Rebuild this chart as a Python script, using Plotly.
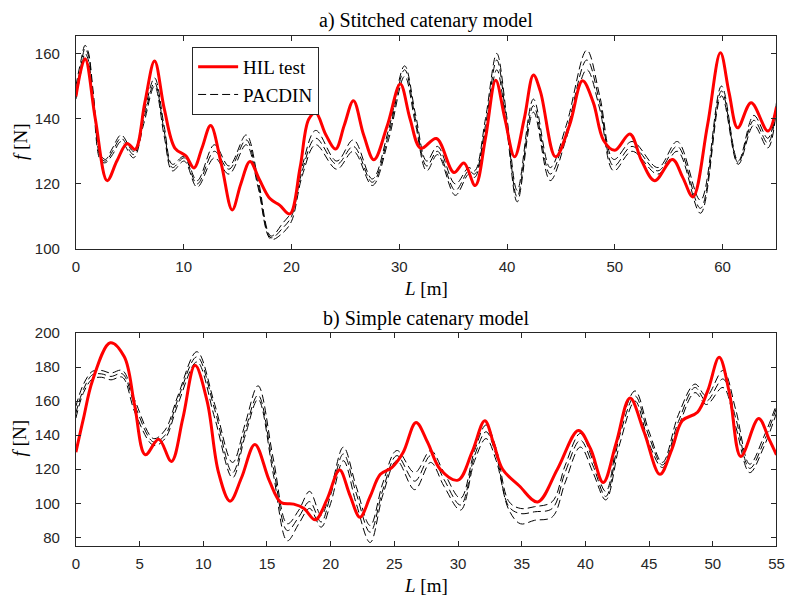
import plotly.graph_objects as go

# ---------------- a) Stitched catenary model ----------------
L_hil_a = [0, 0.85, 1.8, 2.9, 3.8, 4.75, 5.5, 6.4, 7.3, 8.2, 9.2, 10.2, 10.95, 11.7, 12.5,
           13.5, 14.5, 15.3, 16.15, 17.0, 18.0, 18.9, 19.85, 20.8, 21.6, 22.25, 23.2, 24.1,
           24.9, 25.75, 26.7, 27.65, 28.9, 30.1, 31.0, 32.0, 33.45, 35.07, 36.0, 37.05, 38.0,
           38.95, 39.8, 40.7, 41.6, 42.45, 43.1, 44.5, 45.8, 47.0, 48.0, 48.95, 50.0, 51.4,
           52.5, 53.7, 55.35, 56.3, 57.25, 58.6, 59.8, 60.6, 61.4, 62.65, 64.2, 65]
f_hil_a = [146.8, 158.4, 140, 121, 127, 132.4, 130.6, 145, 157.7, 143, 130.9, 128.6, 124.9,
           131, 137.9, 126, 112, 120, 126.9, 121.5, 115.5, 113.5, 110.8, 125, 139.8, 141.8,
           135, 130.7, 138, 145.5, 135, 127.4, 138, 150.6, 140, 130.9, 133.9, 123.5, 126.4,
           119.5, 134, 151.8, 140, 128.3, 140, 153.4, 148.3, 128.3, 138, 151.6, 145, 133.4,
           130.3, 135.3, 127, 121, 127.5, 122, 116, 138, 160.2, 148, 137.2, 144.9, 136.2, 143.6]

L_pac_a = [0, 0.45, 0.85, 1.15, 1.6, 2.3, 2.75, 3.4, 4.2, 5.35, 6.3, 7.3, 8.2, 8.95, 10.05,
           11.25, 12.85, 14.2, 15.8, 16.9, 18.1, 19.2, 20.0, 21.0, 22.25, 24.2, 25.75, 27.5,
           29.0, 30.5, 31.5, 32.55, 33.55, 35.2, 36.45, 37.0, 38.0, 39.05, 40.0, 40.95, 42.45,
           44.0, 45.5, 47.4, 48.6, 49.9, 51.6, 54.0, 55.8, 57.95, 59.9, 61.45, 62.9, 64.2, 65]
f_pac_a_run1 = [146, 154, 160, 158, 145.5, 127, 126.5, 129, 133, 128, 138.5, 150, 134.5, 124,
                127, 119, 128, 123, 132, 119, 103, 105, 108.5, 122.5, 132, 124.5, 130, 119.5,
                133.5, 153, 138.5, 124, 129, 116.5, 123, 122, 136, 155, 136, 114.5, 142, 121,
                134, 155, 143, 124, 130, 123, 130, 111, 147, 126, 138, 131, 143]
f_pac_a_run2 = [148, 156, 161.5, 159.5, 147, 128, 127, 130, 134, 129, 140, 151, 136, 125, 128,
                120, 130, 124.5, 133.5, 120, 103.5, 106.5, 110, 124, 134, 126, 131.5, 120.5,
                135, 155, 140, 125.5, 130, 118, 124, 123, 138, 158, 138, 116, 144, 123, 136,
                158, 145, 125.5, 131.5, 124, 131.5, 112.5, 148.5, 126.5, 139.5, 132.5, 144]
f_pac_a_run3 = [150, 157.5, 162.5, 160.5, 148.5, 129, 127.5, 131, 135, 130, 141.5, 152.5, 137.5,
                126, 128.5, 121, 132, 125.5, 135, 121.5, 104, 108, 111.5, 125.5, 136.4, 127,
                133.5, 121.5, 136.5, 156.2, 141.5, 127, 131.5, 120, 125, 124, 140, 160, 140,
                118, 146, 125, 138, 161, 147, 127.5, 133, 125, 133, 115, 150, 127, 141, 134, 145]

# ---------------- b) Simple catenary model ----------------
L_hil_b = [0, 0.6, 1.3, 2.7, 3.8, 4.6, 5.45, 6.5, 7.5, 8.4, 9.35, 10.3, 11.2, 12.1, 13.0, 14.05,
           15.2, 16.1, 17.1, 17.9, 18.8, 19.7, 20.7, 21.5, 22.3, 23.1, 23.9, 24.8, 25.7, 26.7,
           27.6, 28.6, 30.0, 31.1, 32.1, 32.8, 33.5, 34.8, 36.25, 37.8, 39.45, 40.4, 41.4,
           42.4, 43.5, 44.6, 45.85, 46.8, 47.6, 48.8, 49.6, 50.5, 51.3, 52.2, 53.6, 54.4, 55]
f_hil_b = [130, 150, 172, 194.3, 186, 158, 128.5, 137.6, 124.6, 150, 181, 160, 118, 101.2, 115,
           134.6, 113, 100.5, 99.5, 97, 90.3, 102, 119.5, 105, 91.8, 104, 117, 121, 130, 147.5,
           136, 120, 113.6, 130, 148.5, 135, 120, 110.3, 100.8, 120, 142.8, 132, 112.2, 135,
           161.8, 142, 117, 132, 148.5, 153.5, 166, 185.7, 165, 127.5, 149.8, 138, 128.5]

L_pac_b = [0, 0.6, 1.3, 2.0, 2.75, 3.65, 4.65, 6.1, 7.0, 8.0, 9.5, 10.9, 12.3, 13.3, 14.3, 15.5,
           16.6, 17.5, 18.35, 19.25, 20.0, 21.0, 22.0, 23.1, 24.1, 25.2, 26.6, 27.85, 28.9,
           30.2, 31.3, 32.2, 33.0, 34.0, 34.9, 36.0, 37.4, 38.4, 39.6, 40.6, 41.6, 42.7, 43.9,
           45.0, 46.05, 47.3, 48.6, 49.5, 50.8, 51.8, 52.9, 54.0, 55.0]
f_pac_b_run1 = [150, 165, 173, 174, 172.5, 174, 153, 134, 138, 158, 183, 150, 115, 140, 161, 117,
                78, 88, 97, 86, 100, 125, 100, 77, 105, 125, 108, 124, 110, 96, 125, 138, 125,
                96, 88, 90, 92, 112, 133, 118, 102, 135, 160, 135, 121, 145, 165, 158, 168, 145,
                118, 133, 153]
f_pac_b_run2 = [153, 167, 175.5, 176, 174.5, 176, 157, 136, 140, 161, 186, 155, 118, 143, 163.5,
                121, 84, 92, 101, 89, 105, 129, 106, 83, 108, 128, 113, 128, 114, 99, 128, 142,
                128, 98, 94, 95, 97, 118, 137, 122, 104, 140, 163, 139, 122.5, 148, 168, 160,
                173, 150, 120.5, 136, 156]
f_pac_b_run3 = [157, 170, 177.5, 178, 176.5, 178, 160, 138, 143, 163, 189, 158, 124, 147, 169,
                126, 88, 96, 107, 93, 108, 133, 110, 87, 112, 131, 118, 131, 118, 103, 131, 146,
                132, 101, 97, 98, 101, 122, 141, 125, 107, 144, 166, 142, 124, 152, 170, 163,
                178, 155, 123, 139, 158]

x_ticks_a = [0, 10, 20, 30, 40, 50, 60]
y_ticks_a = [100, 120, 140, 160]
x_ticks_b = [0, 5, 10, 15, 20, 25, 30, 35, 40, 45, 50, 55]
y_ticks_b = [80, 100, 120, 140, 160, 180, 200]

RED = "#ff0000"
INK = "#262626"
SERIF = "Liberation Serif, Times New Roman, serif"
SANS = "Liberation Sans, Arial, Helvetica, sans-serif"
PAC_DASH = "8px,4px"
TXT = 19

fig = go.Figure()

# PACDIN runs (dashed black) -- drawn first so the HIL curve sits on top
for panel, (L, runs) in enumerate([
        (L_pac_a, [f_pac_a_run1, f_pac_a_run2, f_pac_a_run3]),
        (L_pac_b, [f_pac_b_run1, f_pac_b_run2, f_pac_b_run3])]):
    xa, ya = ("x", "y") if panel == 0 else ("x2", "y2")
    for k, f in enumerate(runs):
        fig.add_trace(go.Scatter(
            x=L, y=f, xaxis=xa, yaxis=ya, mode="lines", name="PACDIN",
            line=dict(color="black", width=1, dash=PAC_DASH, shape="spline", smoothing=1),
            showlegend=(panel == 0 and k == 0), legendrank=2, hoverinfo="skip"))

for panel, (L, f) in enumerate([(L_hil_a, f_hil_a), (L_hil_b, f_hil_b)]):
    xa, ya = ("x", "y") if panel == 0 else ("x2", "y2")
    fig.add_trace(go.Scatter(
        x=L, y=f, xaxis=xa, yaxis=ya, mode="lines", name="HIL test",
        line=dict(color=RED, width=3, shape="spline", smoothing=1),
        showlegend=(panel == 0), legendrank=1))

W, H = 796, 609
x0, x1 = 73, 784.3
dom_x = [x0 / W, x1 / W]
top_a, bot_a = 27.3, 247.0
top_b, bot_b = 333.3, 552.3


def axis_style(**kw):
    d = dict(showline=True, linecolor=INK, linewidth=1, mirror="ticks", ticks="inside",
             ticklen=5, tickcolor=INK, tickwidth=1, showgrid=False, zeroline=False,
             tickfont=dict(family=SANS, size=15, color=INK))
    d.update(kw)
    return d


fig.update_layout(
    width=W, height=H,
    margin=dict(l=0, r=0, t=0, b=0),
    paper_bgcolor="white", plot_bgcolor="white",
    xaxis=axis_style(domain=dom_x, range=[0, 65], tickvals=x_ticks_a, anchor="y",
                     ticklabelstandoff=4),
    yaxis=axis_style(domain=[1 - bot_a / H, 1 - top_a / H], range=[100, 165.5],
                     tickvals=y_ticks_a, anchor="x", ticklabelstandoff=12),
    xaxis2=axis_style(domain=dom_x, range=[0, 55], tickvals=x_ticks_b, anchor="y2",
                      ticklabelstandoff=4),
    yaxis2=axis_style(domain=[1 - bot_b / H, 1 - top_b / H], range=[75, 200],
                      tickvals=y_ticks_b, anchor="x2", ticklabelstandoff=12),
    legend=dict(x=191 / W, y=1 - 39 / H, xanchor="left", yanchor="top",
                bgcolor="white", bordercolor=INK, borderwidth=1,
                font=dict(family=SERIF, size=TXT, color="black"),
                tracegroupgap=0, itemwidth=40),
    showlegend=True,
)

xc = (x0 + x1) / 2 / W
label_font = dict(family=SERIF, size=TXT, color="black")
title_font = dict(family=SERIF, size=20, color="black")
annotations = [
    dict(text="a) Stitched catenary model", x=xc, y=1 - 12 / H, font=title_font),
    dict(text="b) Simple catenary model", x=xc, y=1 - 318 / H, font=title_font),
    dict(text="<i>L</i> [m]", x=xc, y=1 - 288 / H, font=label_font),
    dict(text="<i>L</i> [m]", x=xc, y=1 - 593 / H, font=label_font),
    dict(text="<i>f</i> [N]", x=16 / W, y=1 - 137 / H, textangle=-90, font=label_font),
    dict(text="<i>f</i> [N]", x=16 / W, y=1 - 442 / H, textangle=-90, font=label_font),
]
for a in annotations:
    fig.add_annotation(xref="paper", yref="paper", xanchor="center", yanchor="middle",
                       showarrow=False, **a)

fig.write_html("out.html")
